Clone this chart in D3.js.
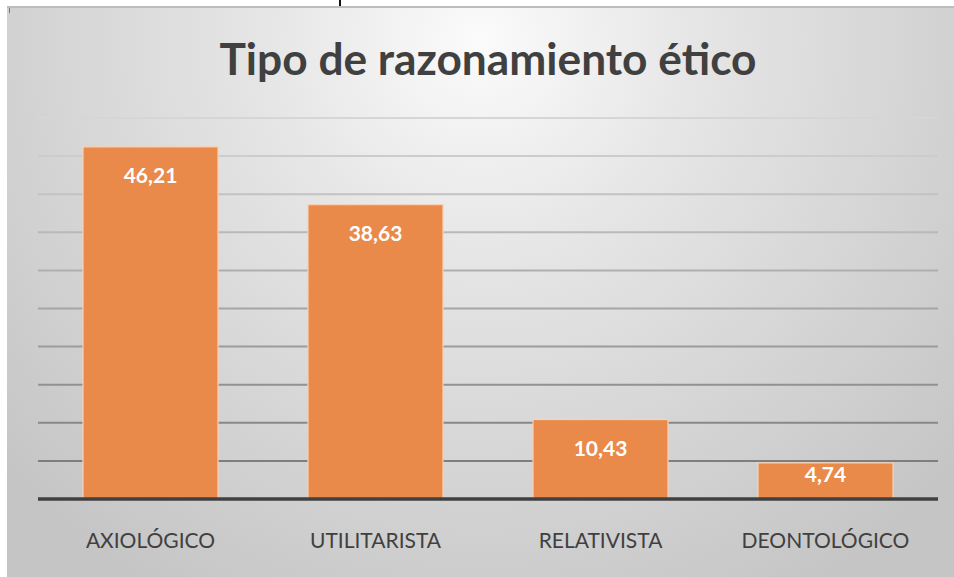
<!DOCTYPE html>
<html>
<head>
<meta charset="utf-8">
<script src="https://cdn.jsdelivr.net/npm/d3@7"></script>
<style>
  html, body { margin: 0; padding: 0; background: #ffffff; }
  svg { display: block; }
</style>
</head>
<body>
<script>
const categories = ["AXIOLÓGICO", "UTILITARISTA", "RELATIVISTA", "DEONTOLÓGICO"];
const values = [46.21, 38.63, 10.43, 4.74];
const valueLabels = ["46,21", "38,63", "10,43", "4,74"];
const gridTicks = [5, 10, 15, 20, 25, 30, 35, 40, 45, 50];
const title = "Tipo de razonamiento ético";

const W = 954, H = 577;
const svg = d3.select("body").append("svg").attr("width", W).attr("height", H);
const defs = svg.append("defs");

const bg = defs.append("radialGradient").attr("id", "bg")
  .attr("gradientUnits", "userSpaceOnUse")
  .attr("cx", 480).attr("cy", 40).attr("r", 640);
bg.append("stop").attr("offset", 0).attr("stop-color", "#fbfbfb");
bg.append("stop").attr("offset", 0.35).attr("stop-color", "#e5e5e5");
bg.append("stop").attr("offset", 0.75).attr("stop-color", "#d1d1d1");
bg.append("stop").attr("offset", 1).attr("stop-color", "#c5c5c5");

const gg = defs.append("linearGradient").attr("id", "grid")
  .attr("gradientUnits", "userSpaceOnUse")
  .attr("x1", 0).attr("y1", 110).attr("x2", 0).attr("y2", 470);
gg.append("stop").attr("offset", 0).attr("stop-color", "#d8d8d8");
gg.append("stop").attr("offset", 1).attr("stop-color", "#7c7c7c");

// frame background
svg.append("rect").attr("x", 7).attr("y", 6).attr("width", W - 7).attr("height", H - 6)
  .attr("fill", "url(#bg)");
svg.append("line").attr("x1", 7).attr("x2", W).attr("y1", 7).attr("y2", 7)
  .attr("stroke", "#bdbdbd").attr("stroke-width", 2);
// stray marks from source document
svg.append("line").attr("x1", 340).attr("x2", 340).attr("y1", 0).attr("y2", 6)
  .attr("stroke", "#111").attr("stroke-width", 2);
svg.append("line").attr("x1", 9.5).attr("x2", 9.5).attr("y1", 8).attr("y2", 13)
  .attr("stroke", "#777").attr("stroke-width", 1);

const x = d3.scaleBand().domain(categories).range([38, 938])
  .paddingInner(0.4).paddingOuter(0.2);
const y = d3.scaleLinear().domain([0, 50]).range([499, 118]);

// gridlines
svg.append("g").selectAll("line").data(gridTicks).join("line")
  .attr("x1", 38).attr("x2", 938)
  .attr("y1", d => y(d)).attr("y2", d => y(d))
  .attr("stroke", "url(#grid)").attr("stroke-width", 2);

// bars
svg.append("g").selectAll("rect").data(values).join("rect")
  .attr("x", (d, i) => x(categories[i]))
  .attr("y", d => y(d))
  .attr("width", x.bandwidth())
  .attr("height", d => y(0) - y(d))
  .attr("fill", "#ea8a4a")
  .attr("stroke", "#f6d2b8").attr("stroke-width", 1.2);

// baseline
svg.append("line").attr("x1", 38).attr("x2", 938).attr("y1", y(0)).attr("y2", y(0))
  .attr("stroke", "#404040").attr("stroke-width", 3.5);

// value labels (inside end; centred when the bar is short)
svg.append("g").selectAll("text").data(values).join("text")
  .attr("x", (d, i) => x(categories[i]) + x.bandwidth() / 2)
  .attr("y", d => y(d) + Math.min(36, (y(0) - y(d)) / 2 + 1))
  .attr("text-anchor", "middle")
  .attr("font-family", "Lato, 'Open Sans', sans-serif")
  .attr("font-weight", "bold")
  .attr("font-size", 21)
  .attr("fill", "#ffffff")
  .text((d, i) => valueLabels[i]);

// category labels
svg.append("g").selectAll("text").data(categories).join("text")
  .attr("x", d => x(d) + x.bandwidth() / 2)
  .attr("y", 548)
  .attr("text-anchor", "middle")
  .attr("font-family", "Lato, 'Open Sans', sans-serif")
  .attr("font-size", 21)
  .attr("fill", "#404040")
  .text(d => d);

// title
svg.append("text")
  .attr("x", 488).attr("y", 75)
  .attr("text-anchor", "middle")
  .attr("font-family", "Lato, 'Open Sans', sans-serif")
  .attr("font-weight", "bold")
  .attr("font-size", 44)
  .attr("fill", "#404040")
  .attr("textLength", 537).attr("lengthAdjust", "spacingAndGlyphs")
  .text(title);
</script>
</body>
</html>
